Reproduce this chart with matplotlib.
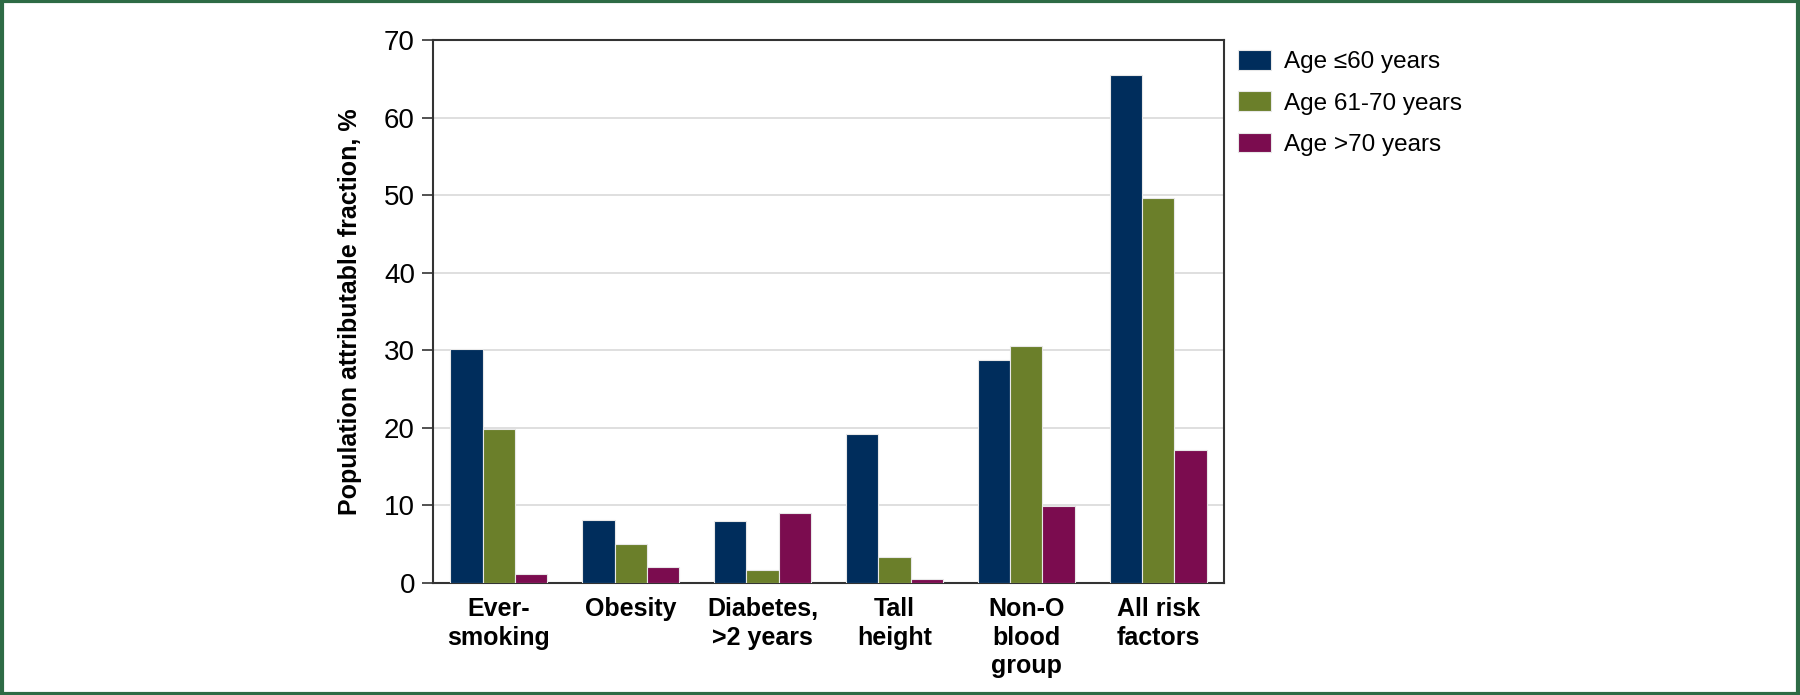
import numpy as np
import matplotlib.pyplot as plt
from matplotlib.patches import Rectangle

# 数据
categories = ['Ever-\nsmoking', 'Obesity', 'Diabetes,\n>2 years', 'Tall\nheight',
              'Non-O\nblood\ngroup', 'All risk\nfactors']
series_names = ['Age \u226460 years', 'Age 61-70 years', 'Age >70 years']
age_le60 = [30.2, 8.1, 8.0, 19.2, 28.8, 65.5]
age_61_70 = [19.9, 5.0, 1.7, 3.4, 30.6, 49.6]
age_gt70 = [1.2, 2.0, 9.0, 0.5, 9.9, 17.1]
colors = ['#002d5c', '#6b7f2a', '#7b0c4f']

plt.rcParams['font.family'] = ['Liberation Sans', 'DejaVu Sans']

fig = plt.figure(figsize=(18, 6.95), dpi=100)
ax = fig.add_axes([433 / 1800, 1 - 583 / 695, (1224 - 433) / 1800, (583 - 40) / 695])

x = np.arange(len(categories))
w = 0.245
for k, vals in enumerate([age_le60, age_61_70, age_gt70]):
    ax.bar(x + (k - 1) * w, vals, width=w, color=colors[k], edgecolor='#e8e8e8',
           linewidth=0.8, label=series_names[k], zorder=3)

ax.set_xlim(-0.5, 5.5)
ax.set_ylim(0, 70)
ax.set_yticks(range(0, 71, 10))
ax.yaxis.grid(True, color='#d9d9d9', linewidth=1.2, zorder=0)
ax.tick_params(axis='y', labelsize=20, length=8, width=1.2, color='#333333', pad=5)
ax.tick_params(axis='x', length=0, pad=10)
ax.set_xticks(x)
ax.set_xticklabels(categories, fontsize=18, fontweight='bold', linespacing=1.25)
for s in ax.spines.values():
    s.set_linewidth(1.5)
    s.set_color('#333333')
ax.set_ylabel('Population attributable fraction, %', fontsize=18, fontweight='bold', labelpad=16)

leg = ax.legend(loc='upper left', bbox_to_anchor=(1.018, 0.981), frameon=False, fontsize=17.5,
                handlelength=1.35, handleheight=0.85, handletextpad=0.55, labelspacing=0.74,
                borderaxespad=0, borderpad=0)

# 外框
fig.add_artist(Rectangle((0.001, 0.002), 0.998, 0.996, transform=fig.transFigure,
                         fill=False, edgecolor='#2e6b45', linewidth=3))

fig.savefig('out.png', dpi=100)
